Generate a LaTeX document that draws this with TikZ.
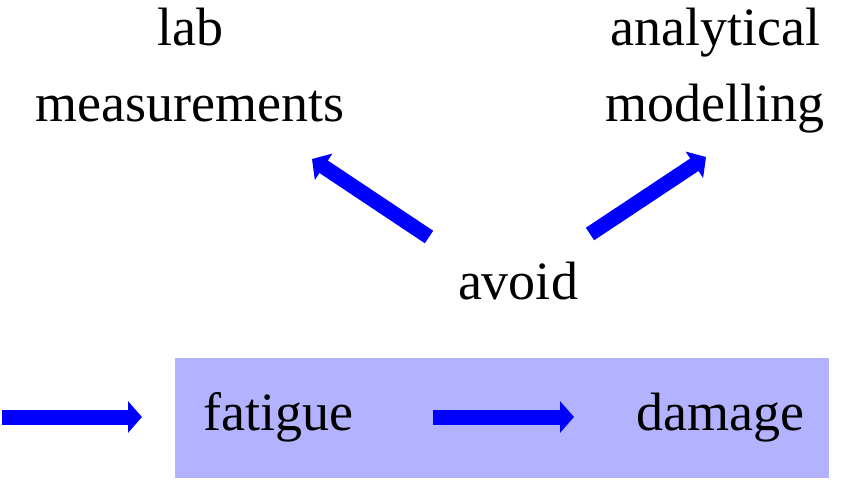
\documentclass[tikz,border=0pt]{standalone}
\usepackage{fontspec}
\setmainfont{Liberation Serif}
\usetikzlibrary{arrows.meta}
\begin{document}
\begin{tikzpicture}[x=1pt,y=-1pt,
  lbl/.style={font=\fontsize{54}{76}\selectfont, inner sep=0pt, align=center},
  fatarrow/.style={draw=blue, line width=15pt, -{Triangle[length=14pt,width=31pt]}, blue},
  stagebox/.style={fill=blue!30, draw=none, minimum width=654pt, minimum height=120pt, inner sep=0pt}]
\useasboundingbox (0,0) rectangle (849,480);
\node[stagebox] (box) at (502,418) {};
\node[lbl, anchor=base] (lab) at (190,121) {lab\\measurements};
\node[lbl, anchor=base] (ana) at (715,121) {analytical\\modelling};
\node[lbl, anchor=base] (avoid) at (518,299) {avoid};
\node[lbl, anchor=base west] (fat) at (203,430) {fatigue};
\node[lbl, anchor=base east] (dam) at (805,430) {damage};
\coordinate (in0) at (2,417);
\coordinate (in1) at (142,417);
\coordinate (m0) at (433,417);
\coordinate (m1) at (574,417);
\coordinate (d1s) at (429,237);
\coordinate (d1e) at (312,159);
\coordinate (d2s) at (590,234);
\coordinate (d2e) at (706,157);
\draw[fatarrow] (in0) -- (in1);
\draw[fatarrow] (m0) -- (m1);
\draw[fatarrow] (d1s) -- (d1e);
\draw[fatarrow] (d2s) -- (d2e);
\end{tikzpicture}
\end{document}
